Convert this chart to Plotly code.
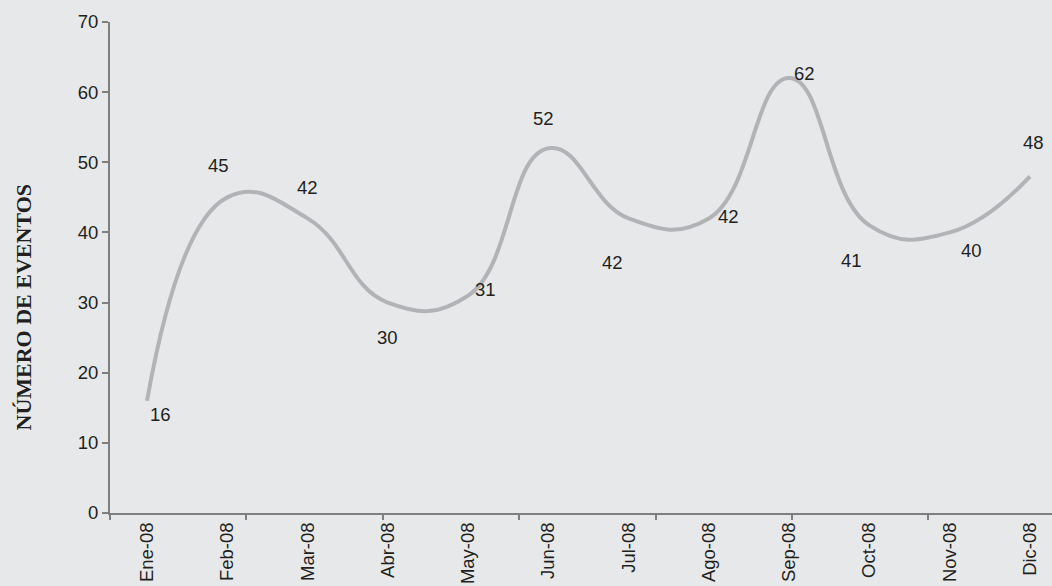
import plotly.graph_objects as go

months = ["Ene-08", "Feb-08", "Mar-08", "Abr-08", "May-08", "Jun-08",
          "Jul-08", "Ago-08", "Sep-08", "Oct-08", "Nov-08", "Dic-08"]
eventos = [16, 45, 42, 30, 31, 52, 42, 42, 62, 41, 40, 48]

# label pixel offsets (style only): (xshift, yshift)
label_dx = [13, -9, 0, 0, 17, -5, -16, 20, 15, -18, 22, 3]
label_dy = [-14, 32, 31, -35, 6, 30, -44, 2, 5, -35, -18, 34]

BG = "#E7E8EA"
LINE = "#B2B3B6"
AXIS = "#7F7F7F"
TXT = "#231F20"
FONT = "Liberation Sans, Arial, sans-serif"

idx = list(range(len(months)))

fig = go.Figure()
fig.add_trace(go.Scatter(
    x=idx, y=eventos, mode="lines",
    line=dict(color=LINE, width=4, shape="spline", smoothing=1.3),
    hoverinfo="skip", showlegend=False,
))
# dummy trace to make the tick-mark overlay axis render
fig.add_trace(go.Scatter(x=[0], y=[0], xaxis="x2", mode="lines",
                         hoverinfo="skip", showlegend=False))

for i, v in enumerate(eventos):
    fig.add_annotation(x=i, y=v, text=str(v), showarrow=False,
                       xshift=label_dx[i], yshift=label_dy[i],
                       font=dict(family=FONT, size=18.5, color=TXT))

fig.add_annotation(xref="paper", yref="paper", x=-0.107, y=0.42,
                   text="<b>NÚMERO DE EVENTOS</b>", textangle=-90,
                   showarrow=False,
                   font=dict(family="Liberation Serif, Times New Roman, serif",
                             size=22, color=TXT))

fig.update_layout(
    width=1052, height=586,
    margin=dict(l=110, r=0, t=22, b=73),
    paper_bgcolor=BG, plot_bgcolor=BG,
    xaxis=dict(
        range=[-0.461, 11.274], tickmode="array", tickvals=idx, ticktext=months,
        tickangle=-90, ticks="", showgrid=False, zeroline=False,
        showline=True, linecolor=AXIS, linewidth=2,
        tickfont=dict(family=FONT, size=18.5, color=TXT),
    ),
    xaxis2=dict(
        overlaying="x", anchor="y", side="bottom", range=[0, 6.906],
        tickmode="linear", tick0=0, dtick=1, ticks="outside", ticklen=6,
        tickwidth=1.5, tickcolor=AXIS, showticklabels=False,
        showgrid=False, zeroline=False, showline=False,
    ),
    yaxis=dict(
        range=[0, 70], dtick=10, ticks="outside", ticklen=6, tickwidth=1.5,
        tickcolor=AXIS, showgrid=False, zeroline=False,
        showline=True, linecolor=AXIS, linewidth=2,
        tickfont=dict(family=FONT, size=18.5, color=TXT),
    ),
)

fig.write_html(
    "out.html",
    config={"displayModeBar": False},
    post_script="document.body.style.margin='0';document.body.style.overflow='hidden';",
)
